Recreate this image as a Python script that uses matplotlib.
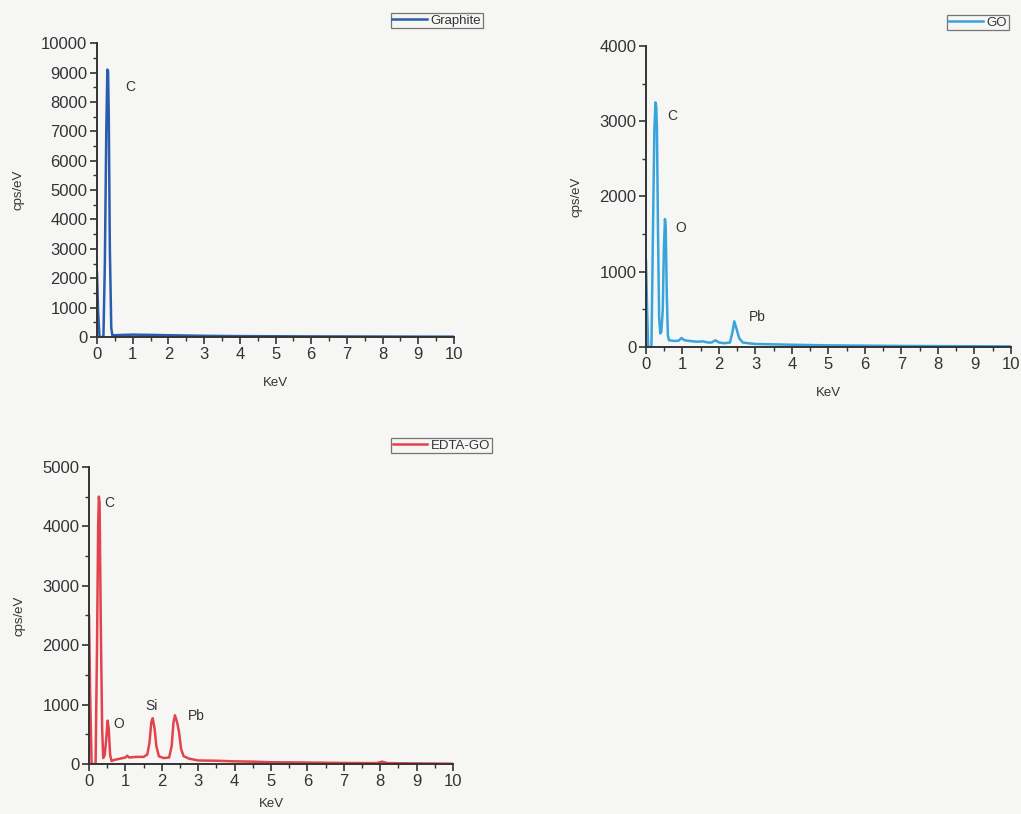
import numpy as np
import matplotlib.pyplot as plt
from matplotlib.ticker import MultipleLocator

plt.rcParams['font.family'] = ['Liberation Sans', 'DejaVu Sans']

# spectra (keV, cps/eV)
graphite_x = [0, 0.03, 0.07, 0.12, 0.18, 0.22, 0.26, 0.29, 0.31, 0.33, 0.36, 0.40, 0.43,
              0.5, 0.7, 1.0, 1.3, 1.6, 2.0, 2.5, 3.0, 3.5, 4.0, 5.0, 6.0, 7.0, 8.0, 9.0, 10.0]
graphite_y = [2200, 900, 0, 0, 0, 2500, 7000, 9100, 9050, 7500, 3000, 300, 60,
              60, 70, 80, 75, 70, 60, 50, 40, 35, 30, 25, 20, 18, 15, 12, 10]

go_x = [0, 0.03, 0.06, 0.1, 0.15, 0.19, 0.23, 0.26, 0.28, 0.30, 0.33, 0.36, 0.39, 0.42,
        0.46, 0.49, 0.52, 0.54, 0.57, 0.60, 0.63, 0.7, 0.8, 0.9, 0.97, 1.05, 1.2, 1.4,
        1.55, 1.7, 1.8, 1.9, 2.0, 2.15, 2.3, 2.37, 2.42, 2.47, 2.55, 2.65, 2.8, 3.0,
        3.5, 4.0, 5.0, 6.0, 7.0, 8.0, 9.0, 10.0]
go_y = [1150, 500, 0, 0, 0, 1500, 2900, 3250, 3200, 2900, 1500, 400, 180, 200,
        500, 1300, 1700, 1600, 700, 150, 90, 85, 80, 85, 120, 90, 80, 70,
        75, 60, 60, 90, 60, 50, 60, 200, 340, 260, 120, 60, 50, 40,
        35, 30, 22, 18, 14, 12, 10, 8]

edta_x = [0, 0.03, 0.07, 0.12, 0.18, 0.22, 0.25, 0.27, 0.29, 0.32, 0.36, 0.39, 0.43,
          0.47, 0.51, 0.54, 0.58, 0.62, 0.7, 0.85, 1.0, 1.05, 1.1, 1.3, 1.5, 1.6, 1.66,
          1.71, 1.75, 1.8, 1.85, 1.92, 2.05, 2.2, 2.27, 2.32, 2.36, 2.42, 2.47, 2.53,
          2.6, 2.75, 3.0, 3.5, 4.0, 4.5, 5.0, 6.0, 7.0, 7.9, 8.05, 8.2, 9.0, 10.0]
edta_y = [2500, 1200, 0, 0, 0, 2000, 4000, 4500, 4400, 2500, 600, 100, 150,
          400, 730, 600, 150, 50, 70, 90, 110, 140, 110, 120, 120, 160, 350,
          700, 770, 600, 300, 130, 100, 110, 300, 700, 820, 700, 550, 250,
          130, 90, 60, 55, 45, 40, 30, 25, 18, 15, 40, 15, 10, 5]

graphite_peaks = [("C", 0.92, 8500)]
go_peaks = [("C", 0.71, 3070), ("O", 0.96, 1580), ("Pb", 3.04, 400)]
edta_peaks = [("C", 0.55, 4400), ("O", 0.82, 670), ("Si", 1.73, 980), ("Pb", 2.94, 810)]

ink = '#333333'
bg = '#f6f7f5'

fig = plt.figure(figsize=(10.21, 8.14), dpi=100, facecolor=bg)


def panel(rect, x, y, color, name, ymax, peaks, leg_anchor, xpad=11):
    ax = fig.add_axes(rect)
    ax.set_facecolor(bg)
    ax.plot(x, y, color=color, lw=1.8, label=name)
    ax.set_xlim(0, 10)
    ax.set_ylim(0, ymax)
    ax.xaxis.set_major_locator(MultipleLocator(1))
    ax.xaxis.set_minor_locator(MultipleLocator(0.5))
    ax.yaxis.set_major_locator(MultipleLocator(1000))
    ax.yaxis.set_minor_locator(MultipleLocator(500))
    for s in ['top', 'right']:
        ax.spines[s].set_visible(False)
    for s in ['left', 'bottom']:
        ax.spines[s].set_color(ink)
        ax.spines[s].set_linewidth(1.4)
    ax.tick_params(which='major', length=5, width=1.2, color=ink, labelcolor=ink,
                   labelsize=12, pad=2)
    ax.tick_params(which='minor', length=3, width=1.0, color=ink)
    ax.set_xlabel('KeV', fontsize=9.5, color=ink, labelpad=xpad)
    ax.set_ylabel('cps/eV', fontsize=9.5, color=ink, labelpad=12)
    for lab, px, py in peaks:
        ax.text(px, py, lab, fontsize=10, color=ink, ha='center', va='center')
    leg = ax.legend(loc='upper right', bbox_to_anchor=leg_anchor,
                    bbox_transform=fig.transFigure, fontsize=9.5, frameon=True,
                    fancybox=False, handlelength=2.6, handletextpad=0.3,
                    borderpad=0.12, borderaxespad=0)
    leg.get_frame().set_edgecolor('#555555')
    leg.get_frame().set_linewidth(0.9)
    leg.get_frame().set_facecolor(bg)
    for t in leg.get_texts():
        t.set_color(ink)
    return ax


panel([0.095, 0.586, 0.3497, 0.361], graphite_x, graphite_y, '#2b5cad', 'Graphite',
      10000, graphite_peaks, (0.473, 0.984))
panel([0.6327, 0.5737, 0.3575, 0.3698], go_x, go_y, '#3aa3dc', 'GO',
      4000, go_peaks, (0.988, 0.9816))
panel([0.0872, 0.0614, 0.3565, 0.365], edta_x, edta_y, '#e2434d', 'EDTA-GO',
      5000, edta_peaks, (0.482, 0.462), xpad=7)

fig.savefig('out.png', dpi=100, facecolor=bg)
